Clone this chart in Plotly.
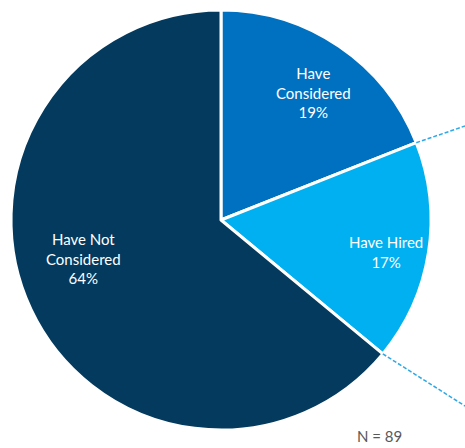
import math
import plotly.graph_objects as go

labels = ["Have Considered", "Have Hired", "Have Not Considered"]
values = [19, 17, 64]
colors = ["#0070C0", "#00B0F0", "#033A5E"]
slice_text = ["Have<br>Considered", "Have Hired", "Have Not<br>Considered"]
note = "N = 89"

W, H = 465, 448
cx, cy, r = 221, 220, 210
FONT = "Lato, Open Sans, sans-serif"

fig = go.Figure(go.Pie(
    labels=labels, values=values, sort=False, direction="clockwise", rotation=0,
    marker=dict(colors=colors, line=dict(color="white", width=3)),
    textinfo="none", hoverinfo="label+percent", showlegend=False,
    domain=dict(x=[(cx - r) / W, (cx + r) / W], y=[(H - cy - r) / H, (H - cy + r) / H]),
))

# label placement (angle from 12 o'clock in degrees, radius fraction)
label_pos = [(36, 0.75), (101, 0.80), (254.5, 0.68)]
total = sum(values)
for txt, v, (ang, fr) in zip(slice_text, values, label_pos):
    a = math.radians(ang)
    px = cx + fr * r * math.sin(a)
    py = cy - fr * r * math.cos(a)
    fig.add_annotation(text=f"{txt}<br>{round(v / total * 100)}%", xref="paper", yref="paper",
                       x=px / W, y=1 - py / H, showarrow=False, xanchor="center", yanchor="middle",
                       font=dict(family=FONT, size=15, color="white"))

# connector dashed lines from the "Have Hired" slice edges
a0 = values[0] / total * 2 * math.pi
a1 = (values[0] + values[1]) / total * 2 * math.pi
ends_y = [126, 406]
for a, ey in zip([a0, a1], ends_y):
    x0 = cx + r * math.sin(a)
    y0 = cy - r * math.cos(a)
    fig.add_shape(type="line", xref="paper", yref="paper",
                  x0=x0 / W, y0=1 - y0 / H, x1=1, y1=1 - ey / H,
                  line=dict(color="#2EA8E6", width=1.5, dash="4px,2px"))

fig.add_annotation(text=note, xref="paper", yref="paper", x=379 / W, y=1 - 436 / H,
                   showarrow=False, xanchor="center", yanchor="middle",
                   font=dict(family=FONT, size=15, color="#595959"))

fig.update_layout(width=W, height=H, margin=dict(l=0, r=0, t=0, b=0),
                  paper_bgcolor="white", plot_bgcolor="white")
fig.write_html("out.html")
